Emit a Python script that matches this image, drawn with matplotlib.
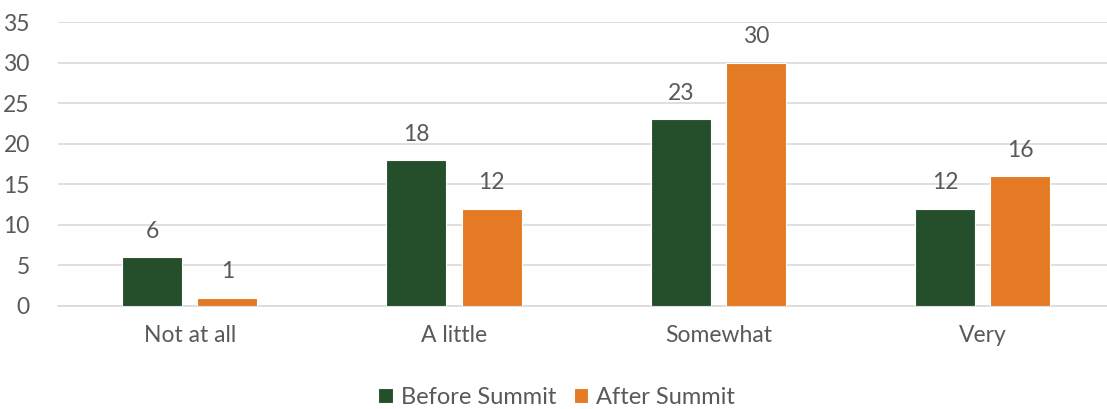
import numpy as np
import matplotlib.pyplot as plt

# data
categories = ["Not at all", "A little", "Somewhat", "Very"]
before = [6, 18, 23, 12]
after = [1, 12, 30, 16]

green = "#254E2B"
orange = "#E57A24"
grey = "#595959"

plt.rcParams['font.family'] = ['Lato', 'DejaVu Sans']

fig = plt.figure(figsize=(11.07, 4.09), dpi=100)
ax = fig.add_axes([0.052, 0.252, 0.955, 0.694])

x = np.arange(len(categories))
w = 0.227
off = 0.142
b1 = ax.bar(x - off, before, w, color=green, edgecolor="white", linewidth=0.8,
            label="Before Summit", zorder=3)
b2 = ax.bar(x + off, after, w, color=orange, edgecolor="white", linewidth=0.8,
            label="After Summit", zorder=3)

for bars in (b1, b2):
    for r in bars:
        ax.text(r.get_x() + r.get_width() / 2, r.get_height() + 1.9,
                f"{int(r.get_height())}", ha="center", va="bottom",
                fontsize=16.5, color=grey)

ax.set_xlim(-0.5, len(categories) - 0.5)
ax.set_ylim(0, 35)
ax.set_yticks(range(0, 36, 5))
ax.set_xticks(x)
ax.set_xticklabels(categories)
ax.tick_params(axis="both", length=0, labelsize=16.5, labelcolor=grey)
ax.tick_params(axis="x", pad=14)
ax.tick_params(axis="y", pad=20)
ax.grid(axis="y", color="#D9D9D9", linewidth=1.2, zorder=0)
for s in ["top", "right", "left"]:
    ax.spines[s].set_visible(False)
ax.spines["bottom"].set_color("#D9D9D9")
ax.spines["bottom"].set_linewidth(1.2)

leg = fig.legend(loc="lower center", bbox_to_anchor=(0.503, -0.05), ncol=2,
                 frameon=False, fontsize=17, handlelength=0.6, handleheight=0.6,
                 handletextpad=0.35, columnspacing=0.75)
for t in leg.get_texts():
    t.set_color(grey)

fig.savefig("out.png", dpi=100)
